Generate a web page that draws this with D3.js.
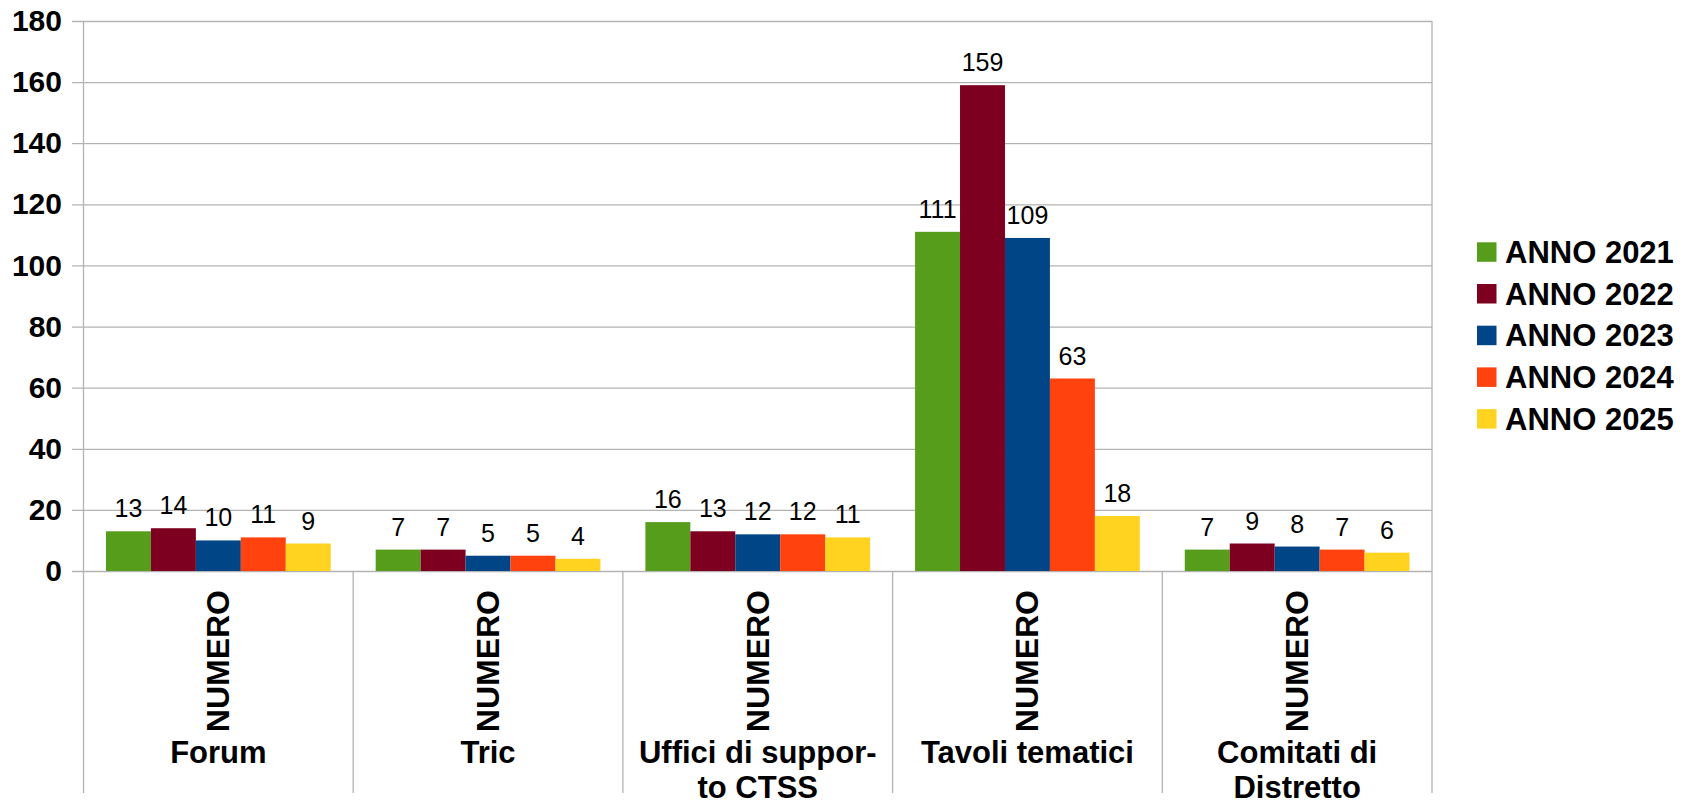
<!DOCTYPE html>
<html>
<head>
<meta charset="utf-8">
<script src="https://cdn.jsdelivr.net/npm/d3@7"></script>
<style>
  html, body { margin: 0; padding: 0; background: #fff; }
  svg { display: block; font-family: "Liberation Sans", Arial, sans-serif; }
</style>
</head>
<body>
<svg id="chart" width="1684" height="800"></svg>
<script>
const categories = ["Forum", "Tric", "Uffici di suppor-to CTSS", "Tavoli tematici", "Comitati di Distretto"];
const categoryLines = [["Forum"], ["Tric"], ["Uffici di suppor-", "to CTSS"], ["Tavoli tematici"], ["Comitati di", "Distretto"]];
const subLabel = "NUMERO";
const series = ["ANNO 2021", "ANNO 2022", "ANNO 2023", "ANNO 2024", "ANNO 2025"];
const colors = ["#579D1C", "#7E0021", "#004586", "#FF420E", "#FFD320"];
const v2021 = [13, 7, 16, 111, 7];
const v2022 = [14, 7, 13, 159, 9];
const v2023 = [10, 5, 12, 109, 8];
const v2024 = [11, 5, 12, 63, 7];
const v2025 = [9, 4, 11, 18, 6];
const yTicks = [0, 20, 40, 60, 80, 100, 120, 140, 160, 180];

const values = [v2021, v2022, v2023, v2024, v2025];
const data = categories.map((c, i) => ({ cat: c, vals: series.map((s, j) => ({ s, v: values[j][i], color: colors[j] })) }));

const svg = d3.select("#chart");
const L = 83.5, R = 1432, T = 21, B = 571, AXB = 793;
const gridColor = "#b3b3b3";

const x0 = d3.scaleBand().domain(categories).range([L, R]).padding(0);
const x1 = d3.scaleBand().domain(series).range([0, x0.bandwidth()]).paddingInner(0).paddingOuter(0.5);
const y = d3.scaleLinear().domain([0, 180]).range([B, T]);

// grid + tick labels
const yAxis = d3.axisLeft(y).tickValues(yTicks).tickSize(R - 72).tickPadding(10);
const gy = svg.append("g").attr("transform", `translate(${R},0)`).call(yAxis);
gy.select(".domain").remove();
gy.selectAll(".tick line").attr("stroke", gridColor).attr("stroke-width", 1.3);
gy.selectAll(".tick text").attr("fill", "#000").attr("font-size", 30).attr("font-weight", "bold")
  .attr("font-family", "'Liberation Sans', Arial, sans-serif");

// vertical border lines
svg.append("line").attr("x1", L).attr("x2", L).attr("y1", T).attr("y2", B).attr("stroke", gridColor).attr("stroke-width", 1.3);
svg.append("line").attr("x1", R).attr("x2", R).attr("y1", T).attr("y2", B).attr("stroke", gridColor).attr("stroke-width", 1.3);

// category separators below axis
const bounds = categories.map(c => x0(c)).concat([R]);
svg.selectAll("line.sep").data(bounds).enter().append("line").attr("class", "sep")
  .attr("x1", d => d).attr("x2", d => d).attr("y1", B).attr("y2", AXB)
  .attr("stroke", gridColor).attr("stroke-width", 1.3);

// bars
const g = svg.selectAll("g.cat").data(data).enter().append("g").attr("class", "cat")
  .attr("transform", d => `translate(${x0(d.cat)},0)`);
g.selectAll("rect").data(d => d.vals).enter().append("rect")
  .attr("x", d => x1(d.s)).attr("width", x1.bandwidth())
  .attr("y", d => y(d.v)).attr("height", d => B - y(d.v))
  .attr("fill", d => d.color);
g.selectAll("text.val").data(d => d.vals).enter().append("text").attr("class", "val")
  .attr("x", d => x1(d.s) + x1.bandwidth() / 2).attr("y", d => y(d.v) - 14)
  .attr("text-anchor", "middle").attr("font-size", 25).attr("fill", "#000")
  .text(d => d.v);

// sub labels (rotated)
svg.selectAll("text.sub").data(categories).enter().append("text").attr("class", "sub")
  .attr("transform", c => `translate(${x0(c) + x0.bandwidth() / 2 + 11},590) rotate(-90)`)
  .attr("text-anchor", "end").attr("font-size", 32).attr("font-weight", "bold").attr("fill", "#000")
  .text(subLabel);

// category labels
categories.forEach((c, i) => {
  const t = svg.append("text").attr("text-anchor", "middle").attr("font-size", 31)
    .attr("font-weight", "bold").attr("fill", "#000");
  categoryLines[i].forEach((ln, k) => {
    t.append("tspan").attr("x", x0(c) + x0.bandwidth() / 2).attr("y", 763 + k * 34.5).text(ln);
  });
});

// legend
const lg = svg.append("g");
series.forEach((s, i) => {
  const cy = 252 + i * 41.7;
  lg.append("rect").attr("x", 1477).attr("y", cy - 9.7).attr("width", 19.5).attr("height", 19.5).attr("fill", colors[i]);
  lg.append("text").attr("x", 1505).attr("y", cy + 11).attr("font-size", 31).attr("font-weight", "bold")
    .attr("fill", "#000").text(s);
});
</script>
</body>
</html>
